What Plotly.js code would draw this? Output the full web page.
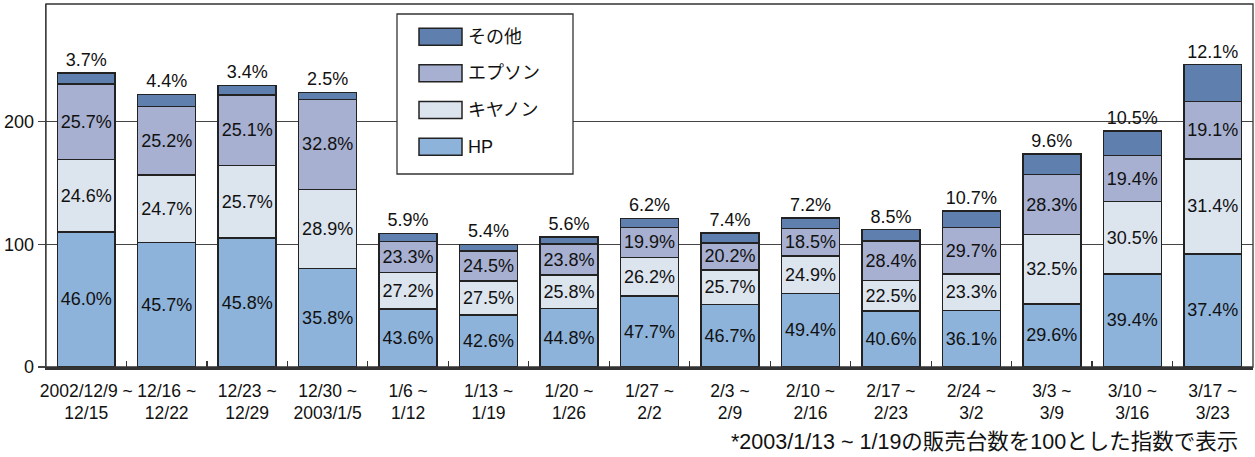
<!DOCTYPE html>
<html>
<head>
<meta charset="utf-8">
<script src="https://cdn.plot.ly/plotly-3.0.1.min.js"></script>
<style>
  html, body { margin: 0; padding: 0; background: #fff; }
  #chart { width: 1255px; height: 457px; }
</style>
</head>
<body>
<div id="chart"></div>
<script>
// ---- data ----
const categories = [
  '2002/12/9 ~<br>12/15', '12/16 ~<br>12/22', '12/23 ~<br>12/29', '12/30 ~<br>2003/1/5',
  '1/6 ~<br>1/12', '1/13 ~<br>1/19', '1/20 ~<br>1/26', '1/27 ~<br>2/2', '2/3 ~<br>2/9',
  '2/10 ~<br>2/16', '2/17 ~<br>2/23', '2/24 ~<br>3/2', '3/3 ~<br>3/9', '3/10 ~<br>3/16', '3/17 ~<br>3/23'
];
// sales index (2003/1/13~1/19 = 100), total height of each bar
const totals = [239.7, 222.3, 229.6, 223.9, 108.9, 100.0, 106.1, 121.1, 109.4, 121.6, 112.1, 127.6, 173.7, 193.0, 246.5];
// share of each maker (%)
const pctHP    = [46.0, 45.7, 45.8, 35.8, 43.6, 42.6, 44.8, 47.7, 46.7, 49.4, 40.6, 36.1, 29.6, 39.4, 37.4];
const pctCanon = [24.6, 24.7, 25.7, 28.9, 27.2, 27.5, 25.8, 26.2, 25.7, 24.9, 22.5, 23.3, 32.5, 30.5, 31.4];
const pctEpson = [25.7, 25.2, 25.1, 32.8, 23.3, 24.5, 23.8, 19.9, 20.2, 18.5, 28.4, 29.7, 28.3, 19.4, 19.1];
const pctOther = [3.7, 4.4, 3.4, 2.5, 5.9, 5.4, 5.6, 6.2, 7.4, 7.2, 8.5, 10.7, 9.6, 10.5, 12.1];
const seriesNames = ['HP', 'キヤノン', 'エプソン', 'その他'];
const note = '*2003/1/13 ~ 1/19の販売台数を100とした指数で表示';

// ---- styling ----
const colors = ['#8eb3da', '#dce4ee', '#a7b0d0', '#5f7fae'];
const FONT = '"Liberation Sans", Arial, "Noto Sans CJK JP", sans-serif';
const W = 1255, H = 457;
const M = {l: 46, r: 2, t: 4, b: 90};
const pw = W - M.l - M.r, ph = H - M.t - M.b;
const pxX = x => (x - M.l) / pw;
const pxY = y => (H - M.b - y) / ph;

const pcts = [pctHP, pctCanon, pctEpson, pctOther];
const traces = pcts.map((p, i) => ({
  type: 'bar',
  name: seriesNames[i],
  x: categories,
  y: p.map((v, j) => totals[j] * v / 100),
  text: p.map(v => v.toFixed(1) + '%'),
  textposition: i === 3 ? 'outside' : 'inside',
  insidetextanchor: 'middle',
  constraintext: 'none',
  cliponaxis: false,
  textfont: {family: FONT, size: 18, color: '#111'},
  marker: {color: colors[i], line: {color: '#222', width: 1.5}},
  hoverinfo: 'x+y+name',
  showlegend: false
}));

// ---- manual legend ----
const shapes = [
  {type: 'rect', xref: 'paper', yref: 'paper', x0: 0, x1: 1, y0: 0, y1: 1,
   line: {color: '#333', width: 1.3}, fillcolor: 'rgba(0,0,0,0)', layer: 'above'},
  {type: 'rect', xref: 'paper', yref: 'paper', x0: pxX(397), x1: pxX(573), y0: pxY(174), y1: pxY(14),
   line: {color: '#333', width: 1.3}, fillcolor: '#fff', layer: 'above'}
];
const annotations = [];
const legendOrder = [3, 2, 1, 0];
const rowCenters = [36.7, 73.3, 110, 146.7];
legendOrder.forEach((si, k) => {
  const cy = rowCenters[k];
  shapes.push({type: 'rect', xref: 'paper', yref: 'paper',
    x0: pxX(419), x1: pxX(462), y0: pxY(cy + 8.5), y1: pxY(cy - 8.5),
    line: {color: '#222', width: 1.5}, fillcolor: colors[si], layer: 'above'});
  annotations.push({xref: 'paper', yref: 'paper', x: pxX(466), y: pxY(cy),
    xanchor: 'left', yanchor: 'middle', showarrow: false, text: seriesNames[si],
    font: {family: FONT, size: 18, color: '#111'}});
});
annotations.push({xref: 'paper', yref: 'paper', x: pxX(1240), y: pxY(442),
  xanchor: 'right', yanchor: 'middle', showarrow: false, text: note,
  font: {family: FONT, size: 21.5, color: '#111'}});

const layout = {
  width: W, height: H,
  margin: M,
  paper_bgcolor: '#fff', plot_bgcolor: '#fff',
  barmode: 'stack',
  bargap: 0.28,
  font: {family: FONT, size: 18, color: '#111'},
  showlegend: false,
  xaxis: {
    type: 'category',
    automargin: false,
    tickangle: 0,
    showline: true, linecolor: '#333', linewidth: 2.5,
    ticks: 'inside', tickson: 'boundaries', ticklen: 6, tickcolor: '#333', tickwidth: 1.2,
    ticklabelstandoff: 6,
    tickfont: {family: FONT, size: 17.5, color: '#111'},
    showgrid: false, zeroline: false, fixedrange: true
  },
  yaxis: {
    range: [0, 296],
    automargin: false,
    tickvals: [0, 100, 200],
    ticks: 'outside', ticklen: 7, tickcolor: '#444', tickwidth: 1.2,
    showline: true, linecolor: '#555', linewidth: 1.3,
    showgrid: true, gridcolor: '#444', gridwidth: 1.2,
    zeroline: false,
    tickfont: {family: FONT, size: 18, color: '#111'},
    fixedrange: true
  },
  shapes: shapes,
  annotations: annotations
};

Plotly.newPlot('chart', traces, layout, {displayModeBar: false, staticPlot: true});
</script>
</body>
</html>
